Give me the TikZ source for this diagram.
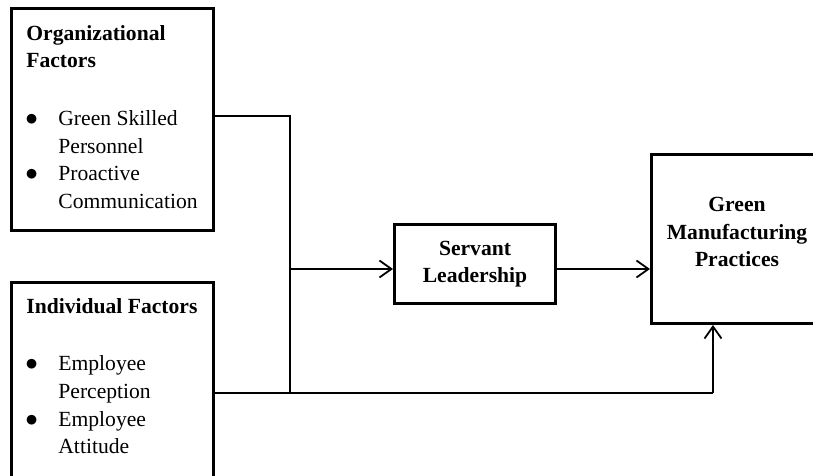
\documentclass[tikz,border=0pt]{standalone}
\usepackage{fontspec}
\setmainfont{Liberation Serif}
\usepackage{tikz}
\usetikzlibrary{positioning,calc,arrows.meta}

\tikzset{
    blockbox/.style={draw, line width=1.5pt, inner sep=0pt, anchor=north west},
    blocktext/.style={inner sep=0pt, align=left, anchor=north west},
    link/.style={line width=0.9pt},
    linkarrow/.style={link, -{Straight Barb[length=6pt,width=8.5pt]}}
}
\newcommand{\bulitem}[2]{\makebox[16pt][l]{\hspace{-0.5pt}\scalebox{1.15}{$\bullet$}}#1\\\hspace*{16pt}#2}

\begin{document}
\begin{tikzpicture}[x=0.5pt, y=-0.5pt, every node/.style={font=\fontsize{10.8}{13.8}\selectfont}]
    \useasboundingbox (0,0) rectangle (813,476);
    \clip (0,0) rectangle (813,476);

    % Factor blocks
    \node[blockbox, minimum width=101pt, minimum height=111pt] (org) at (10,7) {};
    \node[blocktext] (orgtxt) at (26,25) {\textbf{Organizational}\\\textbf{Factors}\\[15pt]
        \bulitem{Green Skilled}{Personnel}\\\bulitem{Proactive}{Communication}};

    \node[blockbox, minimum width=101pt, minimum height=115pt] (ind) at (10,281) {};
    \node[blocktext] (indtxt) at (26,298) {\textbf{Individual Factors}\\[15pt]
        \bulitem{Employee}{Perception}\\\bulitem{Employee}{Attitude}};

    % Mediator and outcome
    \node[blockbox, minimum width=80.5pt, minimum height=39.5pt, align=center, font=\fontsize{10.8}{13.8}\selectfont\bfseries] (srv) at (393,223) {Servant\\Leadership};
    \node[blockbox, minimum width=87pt, minimum height=84.5pt] (gmp) at (650,153) {};
    \node[inner sep=0pt, align=center, font=\fontsize{10.8}{13.8}\selectfont\bfseries] (gmptxt) at (737,232) {Green\\Manufacturing\\Practices};

    % Junction
    \coordinate (jtop) at (290,116);
    \coordinate (jmid) at (290,269);
    \coordinate (jbot) at (290,393);
    \coordinate (turn) at (713,393);

    \draw[link] (org.east |- jtop) -- (jtop) -- (jbot);
    \draw[link] (ind.east |- jbot) -- (jbot) -- (turn);
    \draw[linkarrow] (turn) -- (gmp.south -| turn);
    \draw[linkarrow] (jmid) -- (srv.west |- jmid);
    \draw[linkarrow] (srv.east |- jmid) -- (gmp.west |- jmid);

\end{tikzpicture}
\end{document}
